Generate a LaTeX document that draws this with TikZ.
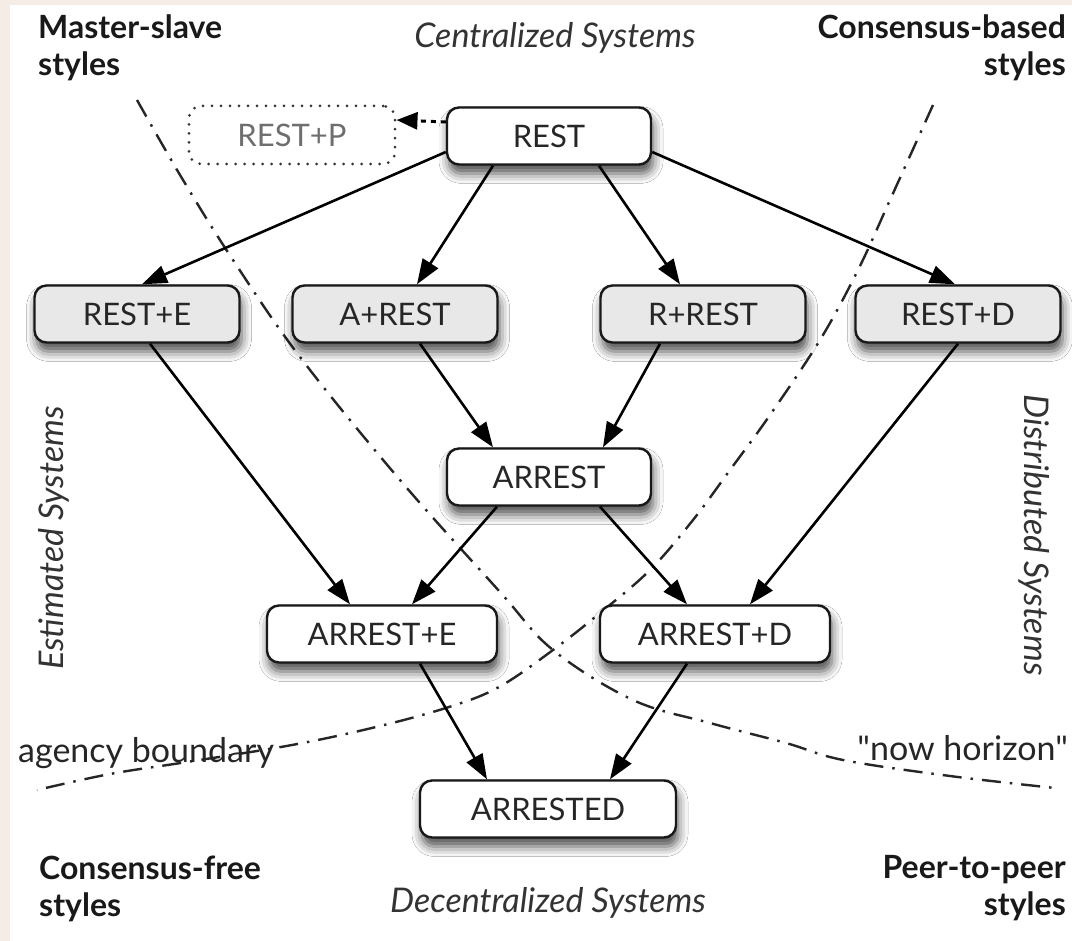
\documentclass[tikz,border=0pt]{standalone}
\usepackage{fontspec}
\setmainfont{Lato}[Ligatures=TeXOff]
\usetikzlibrary{arrows.meta,shadows.blur,calc}
\definecolor{bgbeige}{RGB}{244,236,229}
\definecolor{boxgrey}{RGB}{232,232,232}
\definecolor{edgec}{RGB}{25,25,25}
\definecolor{ptext}{RGB}{110,110,110}
\begin{document}
\begin{tikzpicture}[x=1pt,y=-1pt,
  box/.style={draw=edgec, line width=2.4pt, rounded corners=12pt, minimum height=57pt,
    inner sep=0pt, font=\fontsize{31}{37}\selectfont, text=black!85,
    blur shadow={shadow xshift=2pt, shadow yshift=-9pt, shadow blur radius=10pt, shadow opacity=70}},
  wbox/.style={box, fill=white},
  gbox/.style={box, fill=boxgrey},
  conn/.style={line width=2.6pt, draw=black, -{Triangle[length=25pt,width=18pt]}},
  bound/.style={line width=2.4pt, draw=black!85, dash pattern=on 19pt off 9pt on 2.5pt off 9pt},
  lbl/.style={font=\fontsize{32}{37}\selectfont\bfseries, inner sep=0pt, text=black!90},
  ital/.style={font=\fontsize{34}{40}\selectfont\itshape, inner sep=0pt, text=black!80},
  plain/.style={font=\fontsize{34}{40}\selectfont, inner sep=0pt, text=black!85}]
\useasboundingbox (0,0) rectangle (1072,941);
\fill[bgbeige] (0,0) rectangle (1072,941);
\fill[white] (10,5) rectangle (1072,941);

% boundary curves
\draw[bound] plot[smooth, tension=0.6] coordinates {(137,100) (183,180) (233,260) (300,357) (400,480) (500,592) (553,650) (633,700) (710,723) (786,743) (843,760) (950,776) (1055,788)};
\draw[bound] plot[smooth, tension=0.6] coordinates {(933,105) (890,200) (858,270) (820,340) (770,415) (730,470) (693,520) (650,570) (600,613) (553,650) (499,687) (449,707) (376,727) (292,745) (187,762) (110,774) (37,790)};

% nodes
\node[wbox, minimum width=204pt] (rest) at (549,136) {REST};
\node[draw=black!80, line width=3pt, dash pattern=on 0pt off 9pt, line cap=round, rounded corners=12pt,
  minimum width=206pt, minimum height=58pt, inner sep=0pt, font=\fontsize{31}{37}\selectfont, text=ptext] (restp) at (292,135) {REST+P};
\node[gbox, minimum width=205pt] (reste) at (137,314) {REST+E};
\node[gbox, minimum width=205pt] (arest) at (395,314) {A+REST};
\node[gbox, minimum width=205pt] (rrest) at (703,314) {R+REST};
\node[gbox, minimum width=205pt] (restd) at (958,314) {REST+D};
\node[wbox, minimum width=204pt] (arrest) at (549,477) {ARREST};
\node[wbox, minimum width=230pt] (arreste) at (382,634) {ARREST+E};
\node[wbox, minimum width=230pt] (arrestd) at (715,634) {ARREST+D};
\node[wbox, minimum width=256pt] (arrested) at (548,809) {ARRESTED};

% connectors
\draw[line width=3pt, dash pattern=on 5pt off 5pt, -{Triangle[length=21pt,width=17pt]}]
  ([yshift=14pt]rest.west) -- ([yshift=15pt]restp.east);
\draw[conn] ([yshift=-16pt]rest.west) -- ([xshift=5pt]reste.north);
\draw[conn] ([xshift=-56pt]rest.south) -- ([xshift=22pt]arest.north);
\draw[conn] ([xshift=50pt]rest.south) -- ([xshift=-23pt]rrest.north);
\draw[conn] ([yshift=-16pt]rest.east) -- ([xshift=-3pt]restd.north);
\draw[conn] ([xshift=13pt]reste.south) -- ([xshift=-32pt]arreste.north);
\draw[conn] ([xshift=25pt]arest.south) -- ([xshift=-56pt]arrest.north);
\draw[conn] ([xshift=-43pt]rrest.south) -- ([xshift=54pt]arrest.north);
\draw[conn] (restd.south) -- ([xshift=35pt]arrestd.north);
\draw[conn] ([xshift=-52pt]arrest.south) -- ([xshift=30pt]arreste.north);
\draw[conn] ([xshift=51pt]arrest.south) -- ([xshift=-28pt]arrestd.north);
\draw[conn] ([xshift=38pt]arreste.south) -- ([xshift=-61pt]arrested.north);
\draw[conn] ([xshift=-28pt]arrestd.south) -- ([xshift=62pt]arrested.north);

% labels
\node[lbl, anchor=north west, align=left] (ms) at (38,15) {Master-slave\\styles};
\node[lbl, anchor=north east, align=right] (cb) at (1066,15) {Consensus-based\\styles};
\node[lbl, anchor=north west, align=left] (cf) at (39,856) {Consensus-free\\styles};
\node[lbl, anchor=north east, align=right] (pp) at (1066,855) {Peer-to-peer\\styles};
\node[ital, anchor=base] (cs) at (555,48) {Centralized Systems};
\node[ital, anchor=base] (ds) at (548,912) {Decentralized Systems};
\node[ital, anchor=base, rotate=90] (es) at (63,538) {Estimated Systems};
\node[ital, anchor=base, rotate=-90] (dis) at (1024,535) {Distributed Systems};
\node[plain, anchor=base west] (ab) at (18,762) {agency boundary};
\node[plain, anchor=base east] (nh) at (1068,760) {"now horizon"};
\end{tikzpicture}
\end{document}
